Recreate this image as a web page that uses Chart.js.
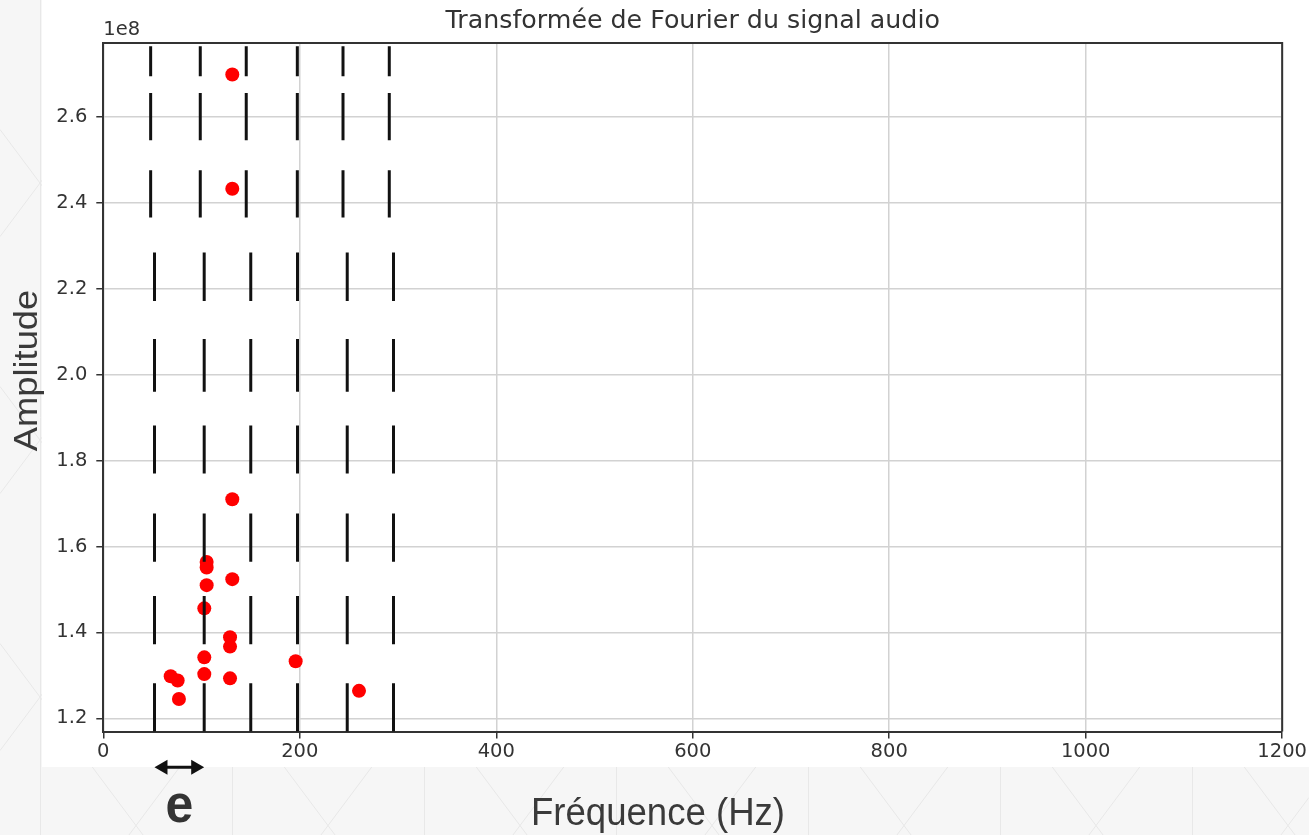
<!DOCTYPE html>
<html lang="fr">
<head>
<meta charset="utf-8">
<title>Transformée de Fourier du signal audio</title>
<script src="https://cdn.jsdelivr.net/npm/chart.js@4.4.0/dist/chart.umd.min.js"></script>
<style>
    html, body { margin: 0; padding: 0; background: #f6f6f6; }
    #wrap { width: 1309px; height: 835px; position: relative; }
</style>
</head>
<body>
<div id="wrap"><canvas id="fourierChart"></canvas></div>
<script>
const frequences = [131.3, 131.3, 131.3, 105.2, 105.2, 105.2, 131.3, 102.8, 129.0,
    129.0, 102.8, 195.8, 102.8, 68.6, 75.7, 129.0, 260.3, 77.0];
const amplitudes = [2.699e8, 2.433e8, 1.710e8, 1.564e8, 1.551e8, 1.510e8, 1.524e8, 1.456e8, 1.389e8,
    1.367e8, 1.342e8, 1.333e8, 1.303e8, 1.298e8, 1.288e8, 1.293e8, 1.264e8, 1.245e8];

// Graduations
const xTicks = [0, 200, 400, 600, 800, 1000, 1200];
const yTicks = [1.2e8, 1.4e8, 1.6e8, 1.8e8, 2.0e8, 2.2e8, 2.4e8, 2.6e8];
const yOffsetLabel = '1e8';

// Traits verticaux en pointilles (harmoniques tracees a la main)
const harmoniquesBas = [52.1, 102.7, 150.1, 197.7, 248.3, 295.4];
const harmoniquesHaut = [48.2, 98.7, 145.5, 197.5, 244.0, 291.1];
const tiretsBas = [[1.1688e8, 1.2815e8], [1.3722e8, 1.4846e8], [1.5644e8, 1.6771e8],
    [1.7702e8, 1.8819e8], [1.9601e8, 2.0834e8], [2.1718e8, 2.2845e8]];
const tiretsHaut = [[2.3659e8, 2.4760e8], [2.5458e8, 2.6559e8], [2.6948e8, 2.7646e8]];

const W = 1309, H = 835;

// ============================
// Datasets
// ============================
const datasets = [{
    label: 'Pics',
    data: frequences.map((f, i) => ({ x: f, y: amplitudes[i] })),
    backgroundColor: '#ff0000',
    borderWidth: 0,
    pointRadius: 7,
    pointHoverRadius: 7,
    order: 1
}];

function ajouterTraits(freqs, rows) {
    freqs.forEach(f => {
        const pts = [];
        rows.forEach(r => {
            pts.push({ x: f, y: r[0] }, { x: f, y: r[1] }, { x: f, y: null });
        });
        datasets.push({
            data: pts,
            showLine: true,
            spanGaps: false,
            borderColor: '#111111',
            borderWidth: 3,
            borderCapStyle: 'butt',
            pointRadius: 0,
            pointHoverRadius: 0,
            order: 0
        });
    });
}
ajouterTraits(harmoniquesBas, tiretsBas);
ajouterTraits(harmoniquesHaut, tiretsHaut);

// ============================
// Decor : fond, cadre, annotations
// ============================
const decor = {
    id: 'decor',
    beforeDraw(chart) {
        const ctx = chart.ctx;
        ctx.save();
        ctx.fillStyle = '#f6f6f6';
        ctx.fillRect(0, 0, W, H);
        // motif discret du fond
        ctx.strokeStyle = '#e8e8e8';
        ctx.lineWidth = 1;
        ctx.beginPath();
        for (let x = 40; x < W; x += 192) {
            ctx.moveTo(x + 0.5, 0);
            ctx.lineTo(x + 0.5, H);
        }
        const s = 257 / 192;
        for (let m = -12; m < 16; m++) {
            const c1 = 129.5 + 257 * m;
            ctx.moveTo(0, c1);
            ctx.lineTo(W, c1 + s * W);
            const c2 = 236.6 + 257 * m;
            ctx.moveTo(0, c2);
            ctx.lineTo(W, c2 - s * W);
        }
        ctx.stroke();
        // zone blanche de la figure
        ctx.fillStyle = '#ffffff';
        ctx.fillRect(42, 0, W - 42, 767);
        ctx.restore();
    },
    afterDatasetsDraw(chart) {
        const ctx = chart.ctx;
        const a = chart.chartArea;
        ctx.save();
        ctx.strokeStyle = '#333333';
        ctx.lineWidth = 2;
        ctx.beginPath();
        ctx.moveTo(a.left, a.top);
        ctx.lineTo(a.right, a.top);
        ctx.lineTo(a.right, a.bottom);
        ctx.stroke();
        ctx.fillStyle = '#333333';
        ctx.font = '19.5px "DejaVu Sans"';
        ctx.textAlign = 'left';
        ctx.textBaseline = 'alphabetic';
        ctx.fillText(yOffsetLabel, a.left, 35);
        ctx.restore();
    },
    afterDraw(chart) {
        const ctx = chart.ctx;
        const xs = chart.scales.x;
        ctx.save();
        ctx.fillStyle = '#3a3a3a';
        ctx.textAlign = 'center';
        ctx.textBaseline = 'alphabetic';

        // titre axe y
        ctx.save();
        ctx.translate(37, 370.5);
        ctx.rotate(-Math.PI / 2);
        ctx.scale(1.1, 1);
        ctx.font = '33px "Liberation Sans"';
        ctx.fillText('Amplitude', 0, 0);
        ctx.restore();

        // titre axe x
        ctx.save();
        ctx.translate(658, 825);
        ctx.scale(1, 1.06);
        ctx.font = '36.6px "Liberation Sans"';
        ctx.fillText('Fréquence (Hz)', 0, 0);
        ctx.restore();

        // ecart e entre deux harmoniques
        const x1 = xs.getPixelForValue(harmoniquesBas[0]);
        const x2 = xs.getPixelForValue(harmoniquesBas[1]);
        const ya = 767.3;
        ctx.strokeStyle = '#111111';
        ctx.fillStyle = '#111111';
        ctx.lineWidth = 3;
        ctx.beginPath();
        ctx.moveTo(x1 + 8, ya);
        ctx.lineTo(x2 - 8, ya);
        ctx.stroke();
        ctx.beginPath();
        ctx.moveTo(x1, ya);
        ctx.lineTo(x1 + 13, ya - 7.5);
        ctx.lineTo(x1 + 13, ya + 7.5);
        ctx.closePath();
        ctx.moveTo(x2, ya);
        ctx.lineTo(x2 - 13, ya - 7.5);
        ctx.lineTo(x2 - 13, ya + 7.5);
        ctx.closePath();
        ctx.fill();

        ctx.save();
        ctx.fillStyle = '#333333';
        ctx.translate((x1 + x2) / 2, 821.7);
        ctx.scale(1, 1.08);
        ctx.font = 'bold 50px "Liberation Sans"';
        ctx.fillText('e', 0, 0);
        ctx.restore();

        ctx.restore();
    }
};

// ============================
// Graphique
// ============================
const tickFont = { family: 'DejaVu Sans', size: 19.5 };
const ctx = document.getElementById('fourierChart').getContext('2d');
const fourierChart = new Chart(ctx, {
    type: 'scatter',
    data: { datasets: datasets },
    plugins: [decor],
    options: {
        responsive: true,
        maintainAspectRatio: false,
        animation: false,
        layout: { padding: { top: 0.7, right: 26.7, bottom: 0, left: 0 } },
        plugins: {
            legend: { display: false },
            tooltip: { enabled: false },
            title: {
                display: true,
                text: 'Transformée de Fourier du signal audio',
                fullSize: false,
                color: '#333333',
                font: { family: 'DejaVu Sans', size: 25.3, weight: 'normal' },
                padding: { top: 6, bottom: 6 }
            }
        },
        scales: {
            x: {
                type: 'linear',
                min: 0,
                max: 1200,
                afterBuildTicks: s => { s.ticks = xTicks.map(v => ({ value: v })); },
                afterFit: s => { s.height = 103.5; },
                ticks: {
                    color: '#333333', font: tickFont, padding: 2, maxRotation: 0, autoSkip: false,
                    callback: v => String(v)
                },
                grid: { color: '#d2d2d2', lineWidth: 1.5, tickLength: 7, tickColor: '#333333', tickWidth: 1.5 },
                border: { color: '#333333', width: 2 }
            },
            y: {
                type: 'linear',
                min: 1.1693e8,
                max: 2.7722e8,
                afterBuildTicks: s => { s.ticks = yTicks.map(v => ({ value: v })); },
                afterFit: s => { s.width = 103.3; },
                ticks: {
                    color: '#333333', font: tickFont, padding: 9, autoSkip: false,
                    callback: v => (v / 1e8).toFixed(1)
                },
                grid: { color: '#d2d2d2', lineWidth: 1.5, tickLength: 7, tickColor: '#333333', tickWidth: 1.5 },
                border: { color: '#333333', width: 2 }
            }
        }
    }
});
</script>
</body>
</html>
